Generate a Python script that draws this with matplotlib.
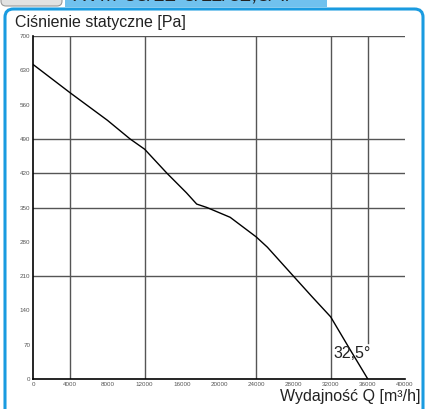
import matplotlib
matplotlib.use("Agg")
import matplotlib.pyplot as plt
from matplotlib.patches import FancyBboxPatch, Rectangle

plt.rcParams['font.family'] = ['Liberation Sans', 'DejaVu Sans']

# Data
flow_q = [0, 4000, 8000, 10430, 12000, 14400, 16500, 17600, 18700, 21200,
          24000, 25200, 28000, 30000, 32000, 34000, 36000]
pressure_p = [642, 584, 528, 490, 469, 420, 380, 357, 350, 330,
              290, 269, 210, 168, 127, 63, 0]
x_ticks = list(range(0, 40001, 4000))
y_ticks = list(range(0, 701, 70))
v_grid = [4000, 12000, 24000, 32000]
h_grid = [700, 490, 420, 350, 210]
angle_label = "32,5°"
title = "Ciśnienie statyczne [Pa]"
xlabel = "Wydajność Q [m³/h]"

W, H = 425, 409
fig = plt.figure(figsize=(W / 100, H / 100), dpi=100)

def fx(px):
    return px / W

def fy(py):
    return 1 - py / H

# frame
frame = FancyBboxPatch((fx(5), fy(430)), fx(418), fy(9) - fy(430),
                       boxstyle="round,pad=0,rounding_size=0.02",
                       transform=fig.transFigure, fill=False,
                       edgecolor='#1a9be0', linewidth=2.2, zorder=1)
fig.patches.append(frame)

# header boxes
gray = FancyBboxPatch((fx(1), fy(6)), fx(61), fy(-20) - fy(6),
                      boxstyle="round,pad=0,rounding_size=0.012",
                      transform=fig.transFigure, facecolor='#e2e2e2',
                      edgecolor='#9a9a9a', linewidth=0.8, zorder=2)
fig.patches.append(gray)
blue = Rectangle((fx(65), fy(7)), fx(262), fy(-5) - fy(7),
                 transform=fig.transFigure, facecolor='#70c1ee',
                 edgecolor='none', zorder=2)
fig.patches.append(blue)
fig.text(fx(32), fy(-5), "245", ha='center', va='center', fontsize=15,
         color='#222222', zorder=3)
fig.text(fx(72), fy(-5), "RVM-55/12-5/11/32,5/4/", ha='left', va='center',
         fontsize=15, color='#222222', style='italic', zorder=3)

ax = fig.add_axes([fx(33), fy(379), fx(405) - fx(33), fy(36) - fy(379)])
ax.set_xlim(0, 40000)
ax.set_ylim(0, 700)
ax.patch.set_alpha(0)

for v in v_grid:
    ax.plot([v, v], [0, 700], color='#555555', lw=1.0, zorder=1)
ax.plot([36000, 36000], [73, 700], color='#555555', lw=1.0, zorder=1)
for h in h_grid:
    ax.plot([0, 40000], [h, h], color='#555555', lw=1.0, zorder=1)

ax.plot(flow_q, pressure_p, color='black', lw=1.0, zorder=3)

for s in ['top', 'right']:
    ax.spines[s].set_visible(False)
for s in ['left', 'bottom']:
    ax.spines[s].set_color('black')
    ax.spines[s].set_linewidth(1.2)

ax.set_xticks(x_ticks)
ax.set_xticklabels([str(t) for t in x_ticks])
ax.set_yticks(y_ticks)
ax.set_yticklabels([str(t) for t in y_ticks])
ax.tick_params(length=0, labelsize=4.5, labelcolor='#555555', pad=2)

ax.text(32300, 52, angle_label, ha='left', va='center', fontsize=11.5,
        color='#222222')

fig.text(fx(15), fy(22), title, ha='left', va='center', fontsize=11.5,
         color='#222222')
fig.text(fx(420), fy(397), xlabel, ha='right', va='center', fontsize=11.5,
         color='#222222')

fig.savefig("out.png", dpi=100)
